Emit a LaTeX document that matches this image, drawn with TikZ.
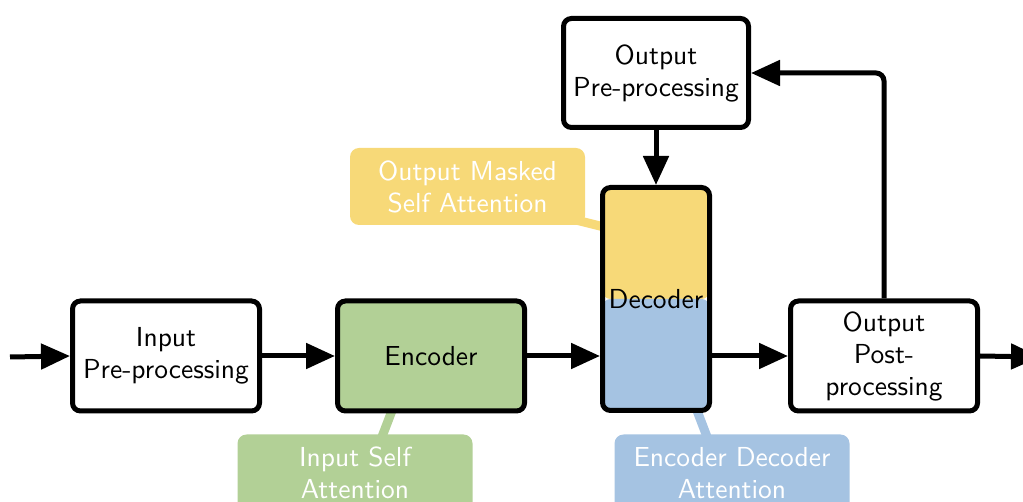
\documentclass[tikz,border=0pt]{standalone}
\usepackage{fontspec}
\newfontfamily\labelfont{lmsans10-regular.otf}
\usetikzlibrary{arrows.meta}
\definecolor{encgreen}{RGB}{178,208,150}
\definecolor{decyellow}{RGB}{247,217,120}
\definecolor{decblue}{RGB}{165,195,226}
\begin{document}
\begin{tikzpicture}[x=1pt,y=-1pt,
  every node/.style={font=\labelfont\fontsize{27.5}{32}\selectfont, align=center, inner sep=0pt},
  blk/.style={draw, line width=5pt, rounded corners=8pt, minimum width=187pt, minimum height=110pt},
  callout/.style={rounded corners=9pt, minimum width=235pt, minimum height=77pt, text=white},
  tail/.style={line width=9pt},
  arr/.style={line width=5pt, -{Triangle[length=29pt,width=25pt]}}]
\useasboundingbox (0,0) rectangle (1023,502);

% callout tails sit beneath the boxes
\coordinate (maskfoot) at (572,219);
\coordinate (maskhead) at (604,227);
\coordinate (selffoot) at (380,442);
\coordinate (selfhead) at (393,408);
\coordinate (edfoot)   at (709,442);
\coordinate (edhead)   at (696,408);
\draw[tail, decyellow] (maskfoot) -- (maskhead);
\draw[tail, encgreen]  (selffoot) -- (selfhead);
\draw[tail, decblue]   (edfoot) -- (edhead);

% callouts
\node[callout, fill=decyellow] (maskcall) at (467.5,186.5) {Output Masked\\Self Attention};
\node[callout, fill=encgreen]  (selfcall) at (355,473) {Input Self\\Attention};
\node[callout, fill=decblue]   (edcall)   at (732,473) {Encoder Decoder\\Attention};

% processing blocks
\node[blk] (inpre) at (166,356) {Input\\Pre-processing};
\node[blk, fill=encgreen] (enc) at (431,356) {Encoder};
\node[blk] (post) at (884,356) {Output\\Post-\\processing};
\node[blk, minimum width=185pt, minimum height=109pt] (outpre) at (656,73) {Output\\Pre-processing};
\node[blk, minimum width=107pt, minimum height=223pt,
  path picture={
    \fill[decyellow] (path picture bounding box.north west) rectangle (path picture bounding box.east);
    \fill[decblue] (path picture bounding box.west) rectangle (path picture bounding box.south east);
  }] (dec) at (656,299) {Decoder};

% data flow
\coordinate (src) at (10,357);
\coordinate (sink) at (1040,357);
\draw[arr] (src) -- (inpre.west);
\draw[arr] (inpre.east) -- (enc.west);
\draw[arr] (enc.east) -- (dec.west |- enc.east);
\draw[arr] (dec.east |- post.west) -- (post.west);
\draw[arr] (post.east) -- (sink);
\draw[arr, rounded corners=8pt] (post.north) |- (outpre.east);
\draw[arr] (outpre.south) -- (dec.north);
\end{tikzpicture}
\end{document}
